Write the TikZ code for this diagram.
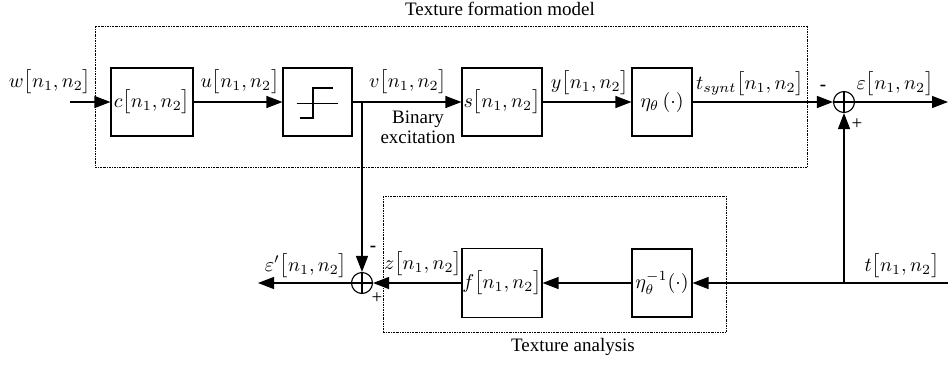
\documentclass[tikz,border=0pt]{standalone}
\usepackage{fontspec}
\setmainfont{Liberation Serif}
\usetikzlibrary{arrows.meta}
\newcommand\msz{\fontsize{10}{12}\selectfont}
\newcommand\tsz{\fontsize{9.5}{10}\selectfont}
\begin{document}
\begin{tikzpicture}[x=0.5pt,y=-0.5pt,
  blk/.style={draw, line width=0.55pt, inner sep=0, font=\msz},
  sig/.style={line width=0.6pt, -{Triangle[length=8pt,width=6pt]}},
  grp/.style={line width=0.35pt, dash pattern=on 1pt off 0.5pt on 0.35pt off 0.5pt},
  sumnode/.style={draw, circle, line width=0.55pt, minimum size=10.5pt, inner sep=0,
    path picture={\draw[line width=0.55pt] (path picture bounding box.north) -- (path picture bounding box.south) (path picture bounding box.west) -- (path picture bounding box.east);}},
  lbl/.style={font=\msz, inner sep=0},
  txt/.style={font=\tsz, inner sep=0},
  sgn/.style={font=\tsz, inner sep=0}
]
\useasboundingbox (0,0) rectangle (948,365);
% group frames
\draw[grp] (95,26) rectangle (807,167);
\draw[grp] (383,196) rectangle (726,332);
\node[txt] (ttop) at (500,9) {Texture formation model};
\node[txt] (tbot) at (573,347) {Texture analysis};
% blocks
\node[blk, minimum width=41pt, minimum height=34pt] (c) at (152,102) {$c\big[n_1,n_2\big]$};
\node[blk, minimum width=34.5pt, minimum height=34pt] (stp) at (317.5,102) {};
\node[blk, minimum width=40pt, minimum height=34pt] (s) at (502,102) {$s\big[n_1,n_2\big]$};
\node[blk, minimum width=30pt, minimum height=34pt] (eta) at (662,102) {$\eta_\theta\left(\cdot\right)$};
\node[blk, minimum width=40pt, minimum height=34.5pt] (f) at (502,283) {$f\big[n_1,n_2\big]$};
\node[blk, minimum width=30pt, minimum height=34pt] (etainv) at (662,283) {$\eta_\theta^{-1}(\cdot)$};
\node[sumnode] (sum1) at (844,102) {};
\node[sumnode] (sum2) at (362,283) {};
% step symbol
\begin{scope}[shift={(stp.center)}]
  \draw[line width=0.45pt] (-21,1) -- (20,1);
  \draw[line width=1.3pt] (-18,16) -- (-4.5,16) -- (-4.5,-14) -- (15,-14);
\end{scope}
% coordinates
\coordinate (win) at (70,102);
\coordinate (eout) at (948,102);
\coordinate (br) at (362,102);
\coordinate (tin) at (948,283);
\coordinate (tb) at (844,283);
\coordinate (epsout) at (258,283);
% connectors
\draw[sig] (win) -- (c.west);
\draw[sig] (c.east) -- (stp.west);
\draw[sig] (stp.east) -- (s.west);
\draw[sig] (s.east) -- (eta.west);
\draw[sig] (eta.east) -- (sum1.west);
\draw[sig] (sum1.east) -- (eout);
\draw[sig] (br) -- (sum2.north);
\draw[sig] (tin) -- (etainv.east);
\draw[sig] (tb) -- (sum1.south);
\draw[sig] (etainv.west) -- (f.east);
\draw[sig] (f.west) -- (sum2.east);
\draw[sig] (sum2.west) -- (epsout);
% labels
\node[lbl] (lw) at (50,82) {$w\big[n_1,n_2\big]$};
\node[lbl] (lu) at (240,82) {$u\big[n_1,n_2\big]$};
\node[lbl] (lv) at (408,82) {$v\big[n_1,n_2\big]$};
\node[txt, align=center] (lbin) at (418,127) {Binary\\[0pt]excitation};
\node[lbl] (ly) at (590,83) {$y\big[n_1,n_2\big]$};
\node[lbl] (lt) at (750,84) {$t_{synt}\big[n_1,n_2\big]$};
\node[lbl] (le) at (895,84) {$\varepsilon\big[n_1,n_2\big]$};
\node[sgn] (m1) at (823,88) {\textbf{-}};
\node[sgn] (p1) at (857,124) {+};
\node[sgn] (m2) at (373,249) {\textbf{-}};
\node[sgn] (p2) at (377,298) {+};
\node[lbl] (lz) at (423,264) {$z\big[n_1,n_2\big]$};
\node[lbl] (lep) at (306,266) {$\varepsilon'\big[n_1,n_2\big]$};
\node[lbl] (ltt) at (902,266) {$t\big[n_1,n_2\big]$};
\end{tikzpicture}
\end{document}
